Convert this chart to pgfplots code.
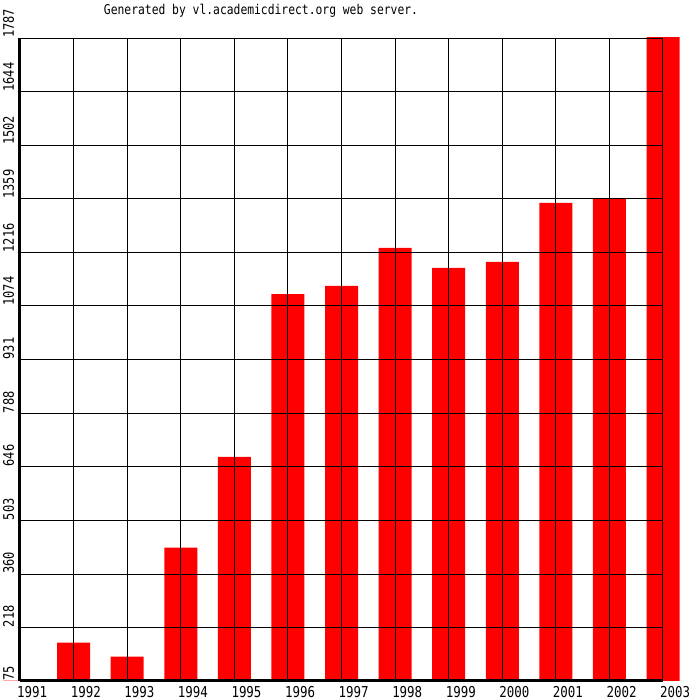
\documentclass[border=0pt]{standalone}
\usepackage{pgfplots}
\pgfplotsset{compat=1.18}
\usepackage{fontspec}
\newfontfamily\gdfont[FakeStretch=0.83]{DejaVu Sans Mono}
\newfontfamily\gdtitle[FakeStretch=0.84]{DejaVu Sans Mono}
\begin{document}
\begin{tikzpicture}
\begin{axis}[
  scale only axis, width=643pt, height=643pt,
  xmin=1991, xmax=2003, ymin=75, ymax=1787,
  ybar stacked, bar width=33pt,
  clip=false, axis on top,
  axis lines=left, axis line style={-, line width=3pt, black},
  grid=major, major grid style={black, line width=0.9pt},
  major tick length=0pt,
  xtick={1991,...,2003},
  ytick={75,218,360,503,646,788,931,1074,1216,1359,1502,1644,1787},
  /pgf/number format/1000 sep={},
  /pgf/number format/assume math mode=true,
  xticklabel style={font=\gdfont\fontsize{15}{15}\selectfont, anchor=base west, inner sep=0pt, text depth=0pt, xshift=-3pt, yshift=-16.5pt},
  yticklabel style={font=\gdfont\fontsize{14.5}{14.5}\selectfont, rotate=90, anchor=base west, inner sep=0pt, text depth=0pt},
  yticklabel shift=6pt,
  title={Generated by vl.academicdirect.org web server.},
  title style={font=\gdtitle\fontsize{13.5}{13.5}\selectfont, at={(axis description cs:0.3748,1.0373)}, anchor=base, inner sep=0pt, yshift=-6pt},
]
\addplot[fill=none, draw=none] coordinates {
(1991,75) (1992,75) (1993,75) (1994,75) (1995,75) (1996,75) (1997,75)
(1998,75) (1999,75) (2000,75) (2001,75) (2002,75) (2003,75)};
\addplot[fill=red, draw=none] table[x=year, y expr=\thisrow{v}-75] {
year v
1991 76
1992 177
1993 140
1994 430
1995 672
1996 1105
1997 1127
1998 1228
1999 1175
2000 1191
2001 1348
2002 1358
2003 1789
};
\coordinate (bl) at (rel axis cs:0,0);
\end{axis}
\pgfresetboundingbox
\path (bl) ++(-20pt,-19pt) rectangle ++(700pt,700pt);
\end{tikzpicture}
\end{document}
